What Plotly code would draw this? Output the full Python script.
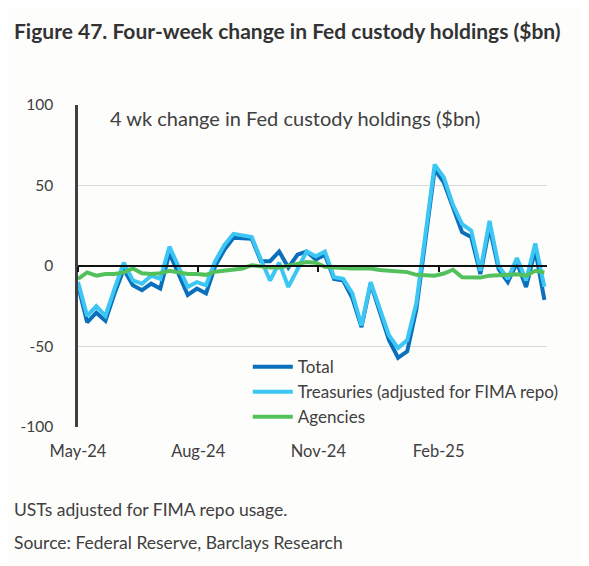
import plotly.graph_objects as go
import pandas as pd

# weekly observations, Wednesdays
weeks = pd.date_range("2024-05-01", periods=52, freq="7D")

total = [-12, -35, -29, -34, -17, -2, -12, -15, -11, -14, 8, -5, -18, -14, -17, 0,
         10, 17.5, 17.5, 17, 3, 3, 9, -1, 7, 9, 4, 7, -8, -9, -20, -38,
         -11, -29, -46, -57, -53, -27, 15, 60, 52, 36, 21, 18, -5, 24, -2, -10,
         2, -13, 10, -21]
treasuries = [-10, -31, -25, -31, -14, 2, -9, -11, -6, -8, 12, -1, -13, -10, -12, 3,
              13, 20, 19, 18, 4, -9, 2, -13, -2, 9, 6, 9, -7, -8, -17, -37,
              -10, -26, -43, -51, -46, -23, 18, 63, 55, 38, 26, 22, -3, 28, 0, -8,
              5, -9, 14, -13]
agencies = [-8, -4, -6, -5, -5, -4, -1.5, -4.5, -5, -4.5, -3, -4, -5, -5, -5.5, -3.5,
            -3, -2.5, -1.5, 0.5, -0.5, -1, -1, 0, 1.5, 2.5, 2, -0.5, -1, -1.5, -1.5, -1.5,
            -1.5, -2.5, -3, -3.5, -3.8, -5.5, -6, -6, -4.7, -2.3, -7, -7.2, -7.2, -6, -5.5, -5.5,
            -5.2, -6, -3, -4]

ytickvals = [-100, -50, 0, 50, 100]
yticktext = ["-100", "-50", "0", "50", "100"]
xtickvals = ["2024-05-01", "2024-08-01", "2024-11-01", "2025-02-01"]
xticktext = ["May-24", "Aug-24", "Nov-24", "Feb-25"]
xrange = ["2024-05-01", "2025-04-25"]

FONT = "Lato"
TXT = "#404040"
LEFT = -0.141  # left edge of title and notes, in plot-width units

fig = go.Figure()
fig.add_trace(go.Scatter(x=weeks, y=total, mode="lines", name="Total",
                         line=dict(color="#0a70bc", width=4)))
fig.add_trace(go.Scatter(x=weeks, y=treasuries, mode="lines",
                         name="Treasuries (adjusted for FIMA repo)",
                         line=dict(color="#3cc6f4", width=4)))
# agencies sit on the overlay axis that also draws the zero line
fig.add_trace(go.Scatter(x=weeks, y=agencies, mode="lines", name="Agencies",
                         xaxis="x2", line=dict(color="#52c15c", width=4)))

fig.update_layout(
    width=589, height=566,
    margin=dict(l=63, r=50, t=97, b=147),
    paper_bgcolor="#fdfdfc", plot_bgcolor="#fdfdfc",
    font=dict(family=FONT, size=16, color=TXT),
    showlegend=True,
    legend=dict(x=0.362, y=0.242, xanchor="left", yanchor="top",
                bgcolor="rgba(0,0,0,0)", font=dict(size=17, color=TXT),
                tracegroupgap=0, itemwidth=40),
    xaxis=dict(type="date", range=xrange, tickvals=xtickvals, ticktext=xticktext,
               showgrid=False, showline=False, zeroline=False, ticks="",
               ticklabelstandoff=12,
               tickfont=dict(size=16.5, color=TXT)),
    xaxis2=dict(type="date", range=xrange, overlaying="x", anchor="free",
                position=0.5, side="bottom", tickvals=xtickvals,
                showticklabels=False, showgrid=False, zeroline=False,
                showline=True, linecolor="#111111", linewidth=1.5,
                ticks="outside", ticklen=5, tickwidth=1.5, tickcolor="#111111"),
    yaxis=dict(range=[-100, 100], tickvals=ytickvals, ticktext=yticktext,
               showgrid=True, gridcolor="#d9d9d9", gridwidth=1,
               zeroline=False, showline=True, linecolor="#404040", linewidth=2.5,
               ticks="", ticklabelstandoff=19,
               tickfont=dict(size=15.5, color=TXT)),
)

fig.add_annotation(text="<b>Figure 47. Four-week change in Fed custody holdings ($bn)</b>",
                   xref="paper", yref="paper", x=LEFT, y=1.232,
                   xanchor="left", yanchor="middle", showarrow=False,
                   font=dict(size=21, color="#333333"))
fig.add_annotation(text="4 wk change in Fed custody holdings ($bn)",
                   xref="paper", yref="paper", x=0.462, y=0.96,
                   xanchor="center", yanchor="middle", showarrow=False,
                   font=dict(size=20, color=TXT))
fig.add_annotation(text="USTs adjusted for FIMA repo usage.",
                   xref="paper", yref="paper", x=LEFT, y=-0.255,
                   xanchor="left", yanchor="middle", showarrow=False,
                   font=dict(size=17.5, color=TXT))
fig.add_annotation(text="Source: Federal Reserve, Barclays Research",
                   xref="paper", yref="paper", x=LEFT, y=-0.36,
                   xanchor="left", yanchor="middle", showarrow=False,
                   font=dict(size=17.5, color=TXT))

fig.write_html("out.html")
